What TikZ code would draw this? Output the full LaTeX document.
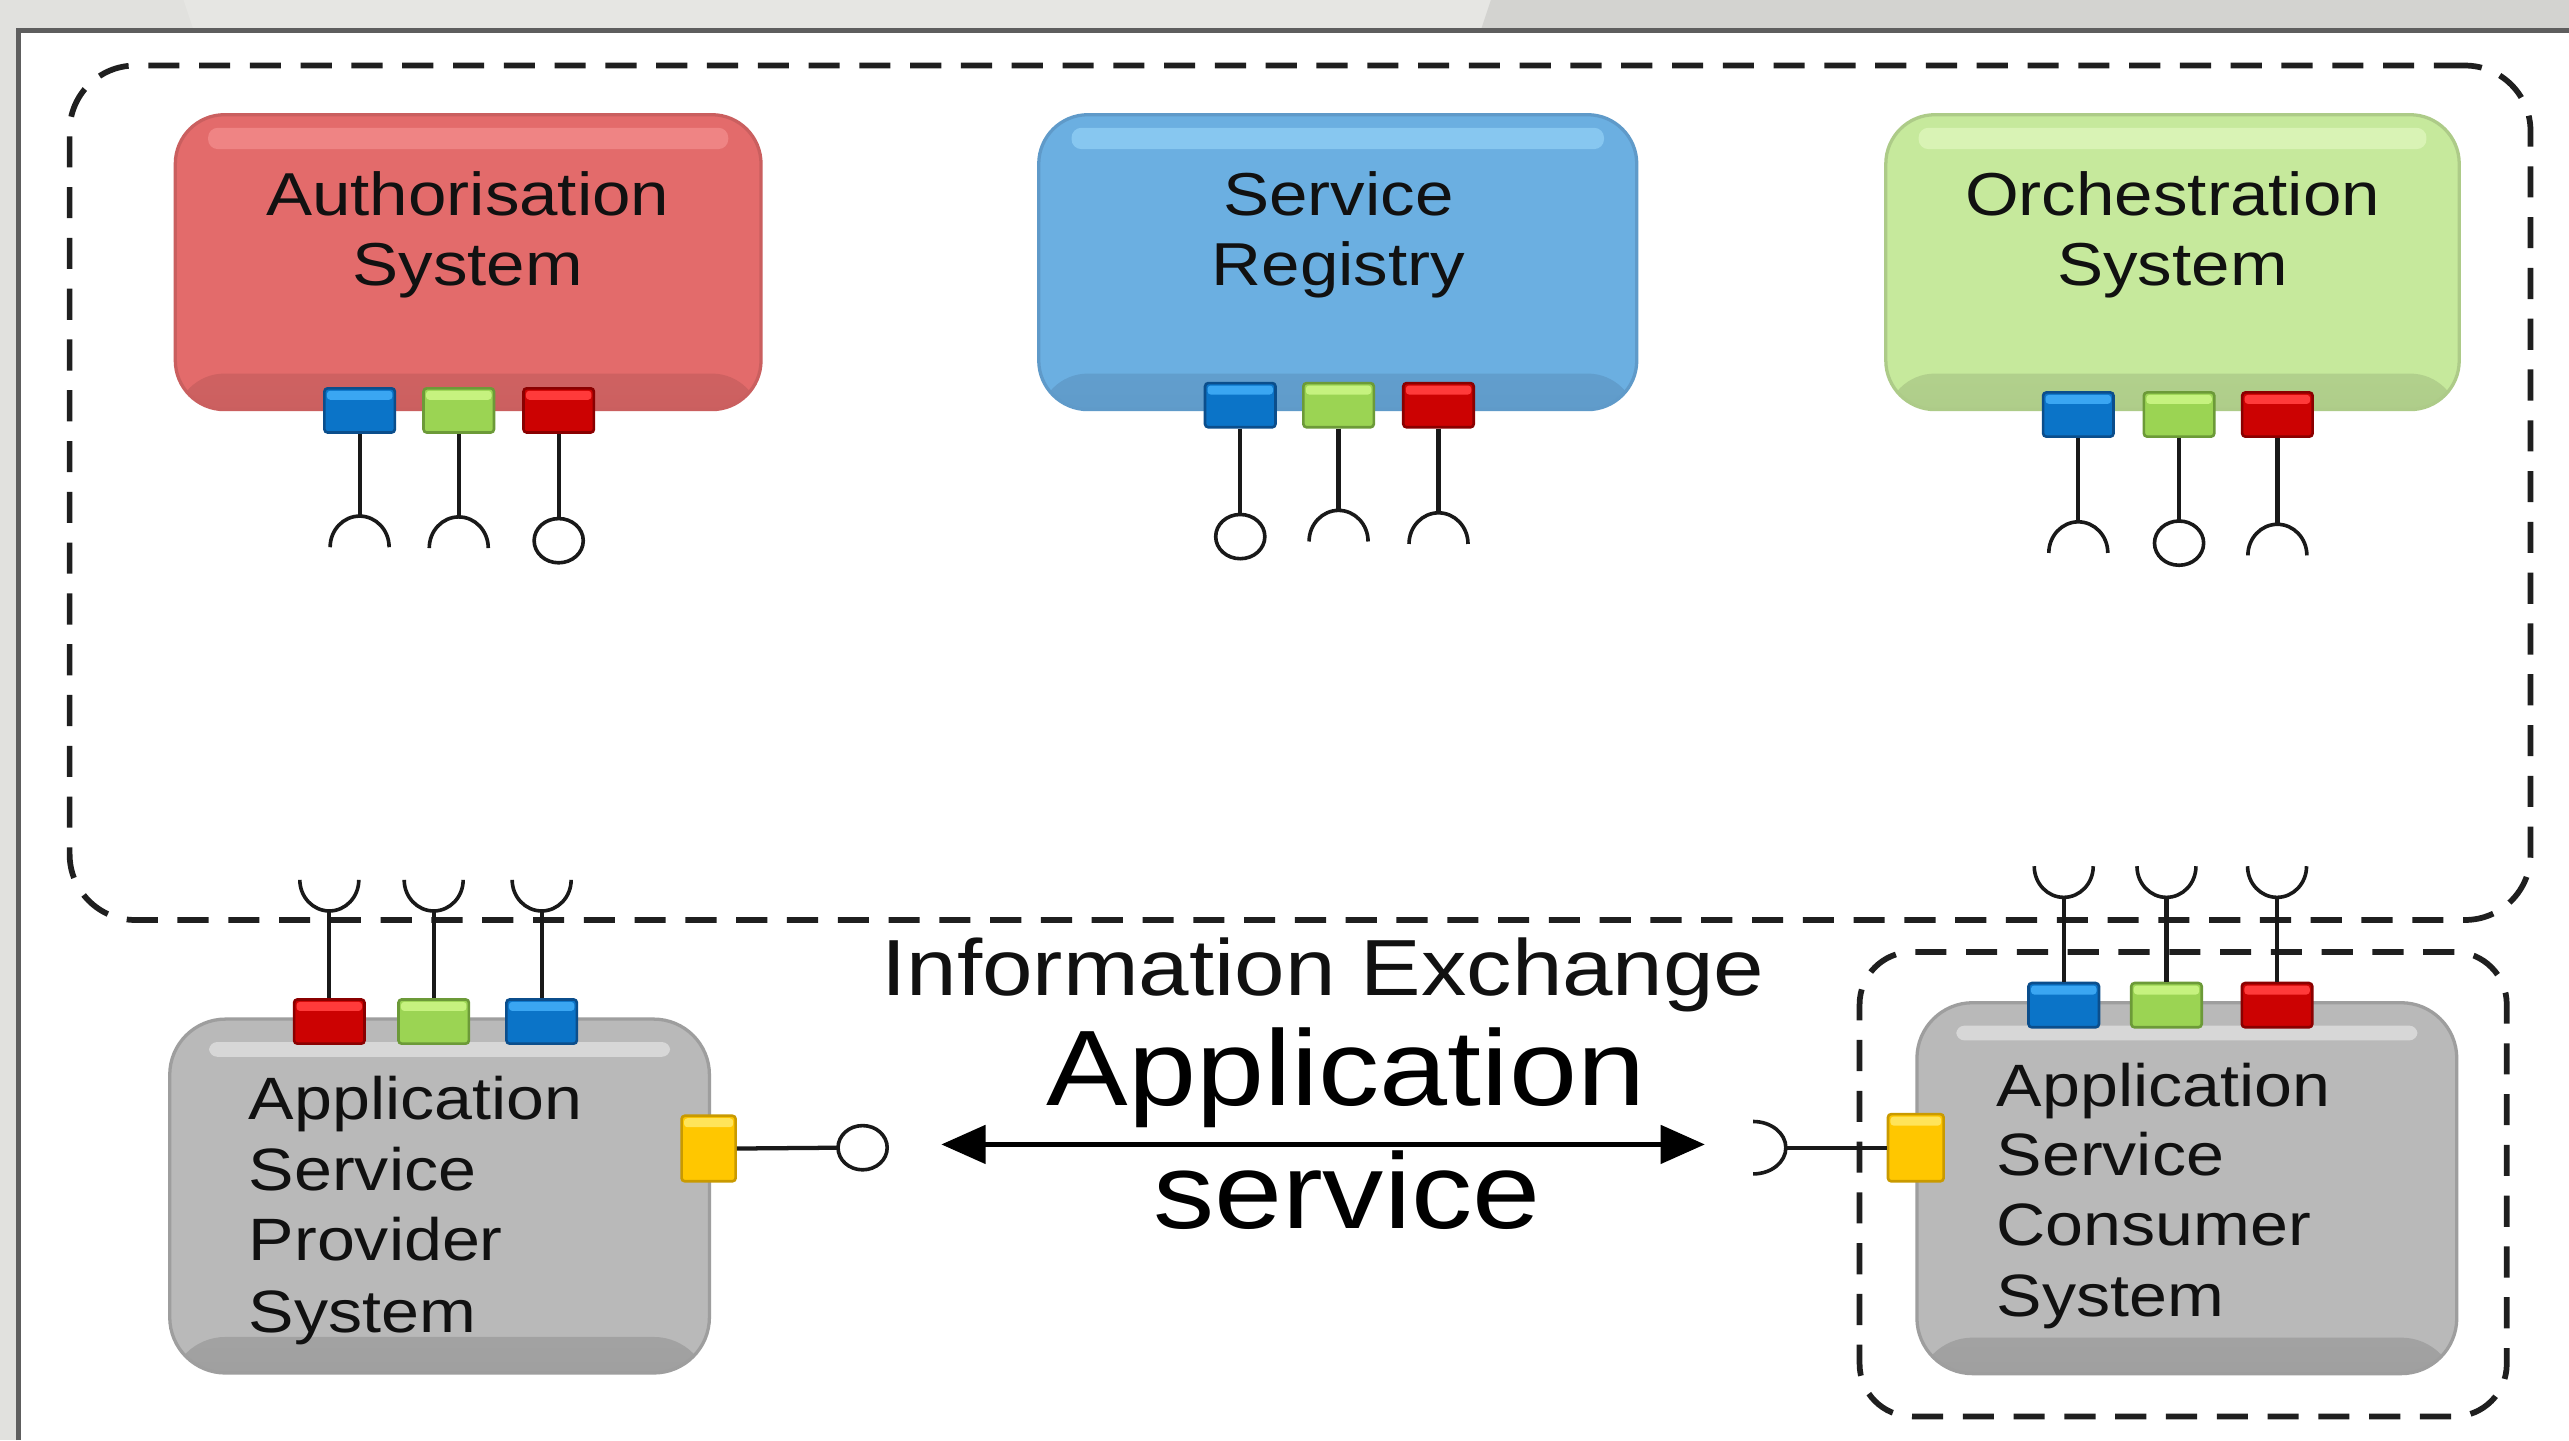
\documentclass[tikz,border=0pt]{standalone}
\usepackage{fontspec}
\newfontfamily\lblfont{Liberation Sans}[FakeStretch=1.14]
\usetikzlibrary{arrows.meta}
\definecolor{bgL}{HTML}{E1E1DE}
\definecolor{bgM}{HTML}{E6E6E3}
\definecolor{bgR}{HTML}{D3D3D0}
\definecolor{frameC}{HTML}{5E5E5E}
\definecolor{ink}{HTML}{111111}
\definecolor{redM}{HTML}{E36B6B}\definecolor{redD}{HTML}{BF5A5A}\definecolor{redL}{HTML}{F79696}
\definecolor{bluM}{HTML}{6BAFE1}\definecolor{bluD}{HTML}{5A91BE}\definecolor{bluL}{HTML}{9AD7FA}
\definecolor{grnM}{HTML}{C6E99C}\definecolor{grnD}{HTML}{A2BE80}\definecolor{grnL}{HTML}{E6FBC6}
\definecolor{gryM}{HTML}{B9B9B9}\definecolor{gryD}{HTML}{929292}\definecolor{gryL}{HTML}{E4E4E4}
\definecolor{pB}{HTML}{0B74C8}\definecolor{pBd}{HTML}{0B4E8C}\definecolor{pBl}{HTML}{3AA6F2}
\definecolor{pG}{HTML}{9BD453}\definecolor{pGd}{HTML}{6C9A38}\definecolor{pGl}{HTML}{C6F27F}
\definecolor{pR}{HTML}{CC0202}\definecolor{pRd}{HTML}{8A0000}\definecolor{pRl}{HTML}{FF3A3A}
\definecolor{pY}{HTML}{FFC700}\definecolor{pYd}{HTML}{C99A00}\definecolor{pYl}{HTML}{FFE45A}
\tikzset{
  sysbox/.style n args={3}{draw=#2!70!#1, fill=#1, line width=2pt, rounded corners=30pt, inner sep=0pt,
    path picture={
      \shade[top color=#1, bottom color=#2!65!#1] ([yshift=22pt]path picture bounding box.south west) rectangle (path picture bounding box.south east);
      \fill[#3, opacity=0.6, rounded corners=6pt] ([xshift=20pt,yshift=-8pt]path picture bounding box.north west) rectangle ([xshift=-20pt,yshift=-21pt]path picture bounding box.north east);
    }},
  lowbox/.style n args={3}{draw=#2!70!#1, fill=#1, line width=2pt, rounded corners=34pt, inner sep=0pt,
    path picture={
      \shade[top color=#1, bottom color=#2!65!#1] ([yshift=22pt]path picture bounding box.south west) rectangle (path picture bounding box.south east);
      \fill[#3, opacity=0.7, rounded corners=5pt] ([xshift=24pt,yshift=-14pt]path picture bounding box.north west) rectangle ([xshift=-24pt,yshift=-23pt]path picture bounding box.north east);
    }},
  portbox/.style n args={3}{draw=#2, fill=#1, line width=1.6pt, rounded corners=2pt, inner sep=0pt,
    minimum width=43, minimum height=27,
    path picture={\fill[#3] ([xshift=1.5pt,yshift=-1.5pt]path picture bounding box.north west) rectangle ([xshift=-1.5pt,yshift=-7pt]path picture bounding box.north east);}},
  pblue/.style={portbox={pB}{pBd}{pBl}},
  pgreen/.style={portbox={pG}{pGd}{pGl}},
  pred/.style={portbox={pR}{pRd}{pRl}},
  pyellow/.style={portbox={pY}{pYd}{pYl}, minimum width=33, minimum height=40},
  grpline/.style={draw=black!88, line width=3.5pt, dash pattern=on 19pt off 12pt, inner sep=0pt},
  stemline/.style={draw=black!90, line width=2.6pt},
  sockline/.style={draw=black!90, line width=2.2pt},
  biarrow/.style={draw=black, line width=3.5pt, {Triangle[length=27pt,width=23pt]}-{Triangle[length=27pt,width=23pt]}},
  lbltop/.style={font=\lblfont\fontsize{37}{44}\selectfont, text=ink, inner sep=0pt, anchor=base},
  lbllow/.style={font=\lblfont\fontsize{36.5}{43}\selectfont, text=ink, inner sep=0pt, anchor=base west},
  lblmid/.style={font=\lblfont\fontsize{48.6}{56}\selectfont, text=ink, inner sep=0pt, anchor=base},
  lblbig/.style={font=\lblfont\fontsize{65.5}{75}\selectfont, text=black, inner sep=0pt, anchor=base},
}
\newcommand\sockdown[1]{\draw[sockline] (#1) ++(-18,19) arc[start angle=180,end angle=0,x radius=18pt,y radius=19pt];}
\newcommand\ballat[1]{\draw[sockline, fill=white] ([yshift=-13.5pt]#1) ellipse [x radius=15pt,y radius=13.5pt];}
\newcommand\cupup[1]{\draw[sockline] (#1) ++(-18,-19) arc[start angle=180,end angle=360,x radius=18pt,y radius=19pt];}
\begin{document}
\begin{tikzpicture}[x=1pt,y=-1pt]
\useasboundingbox (0,0) rectangle (1568,879);
% slide background and frame
\fill[bgL] (0,0) rectangle (1568,879);
\fill[bgM] (112,0) -- (910,0) -- (904,18) -- (118,18) -- cycle;
\fill[bgR] (910,0) -- (1568,0) -- (1568,18) -- (904,18) -- cycle;
\fill[white] (11.5,18.5) rectangle (1568,879);
\draw[frameC, line width=3pt, line join=miter] (11.5,879) -- (11.5,18.5) -- (1568,18.5);

% group boundaries
\node[grpline, rounded corners=40pt, minimum width=1502, minimum height=521.5] (core) at (793.5,300.75) {};
\node[grpline, rounded corners=32pt, minimum width=395, minimum height=283.5] (consgrp) at (1332.5,722.75) {};

% core systems
\node[sysbox={redM}{redD}{redL}, minimum width=357.5, minimum height=180] (auth) at (285.75,160) {};
\node[sysbox={bluM}{bluD}{bluL}, minimum width=365, minimum height=180] (reg) at (816.5,160) {};
\node[sysbox={grnM}{grnD}{grnL}, minimum width=350, minimum height=180] (orch) at (1326,160) {};

\node[lbltop] (authA) at (285.5,131.4) {Authorisation};
\node[lbltop] (authB) at (285.5,174.2) {System};
\node[lbltop] (regA) at (817,131.4) {Service};
\node[lbltop] (regB) at (817,174.2) {Registry};
\node[lbltop] (orchA) at (1326,131.4) {Orchestration};
\node[lbltop] (orchB) at (1326,174.2) {System};

% application systems
\node[lowbox={gryM}{gryD}{gryL}, minimum width=329.4, minimum height=216] (prov) at (268.3,730) {};
\node[lowbox={gryM}{gryD}{gryL}, minimum width=329.5, minimum height=226.4] (cons) at (1334.75,725.2) {};

\node[lbllow] (provA) at (151.7,683) {Application};
\node[lbllow] (provB) at (151.7,726.8) {Service};
\node[lbllow] (provC) at (151.7,769.6) {Provider};
\node[lbllow] (provD) at (151.7,813) {System};
\node[lbllow] (consA) at (1218.5,675.2) {Application};
\node[lbllow] (consB) at (1218.5,717.6) {Service};
\node[lbllow] (consC) at (1218.5,760.4) {Consumer};
\node[lbllow] (consD) at (1218.5,803.8) {System};

% ports of the core systems
\node[pblue] (a1) at (219.5,250.5) {};
\node[pgreen] (a2) at (280,250.5) {};
\node[pred] (a3) at (341,250.5) {};
\node[pblue] (r1) at (757,247.3) {};
\node[pgreen] (r2) at (817,247.3) {};
\node[pred] (r3) at (878,247.3) {};
\node[pblue] (o1) at (1268.5,253) {};
\node[pgreen] (o2) at (1330,253) {};
\node[pred] (o3) at (1390,253) {};

\coordinate (a1t) at (219.5,315);
\coordinate (a2t) at (280,315.5);
\coordinate (a3t) at (341,316.5);
\coordinate (r1t) at (757,314);
\coordinate (r2t) at (817,311.5);
\coordinate (r3t) at (878,313);
\coordinate (o1t) at (1268.5,318.5);
\coordinate (o2t) at (1330,318);
\coordinate (o3t) at (1390,320);

\foreach \p in {a1,a2,a3,r1,r2,r3,o1,o2,o3} {\draw[stemline] (\p.south) -- (\p t);}
\sockdown{a1t}\sockdown{a2t}\ballat{a3t}
\ballat{r1t}\sockdown{r2t}\sockdown{r3t}
\sockdown{o1t}\ballat{o2t}\sockdown{o3t}

% ports of the application systems
\node[pred] (p1) at (201,623.5) {};
\node[pgreen] (p2) at (264.7,623.5) {};
\node[pblue] (p3) at (330.6,623.5) {};
\node[pblue] (c1) at (1259.6,613.5) {};
\node[pgreen] (c2) at (1322.3,613.5) {};
\node[pred] (c3) at (1389.8,613.5) {};

\coordinate (p1t) at (201,556);
\coordinate (p2t) at (264.7,556);
\coordinate (p3t) at (330.6,556);
\coordinate (c1t) at (1259.6,547.7);
\coordinate (c2t) at (1322.3,547.7);
\coordinate (c3t) at (1389.8,547.7);
\foreach \p in {p1,p2,p3,c1,c2,c3} {\draw[stemline] (\p.north) -- (\p t);}
\cupup{p1t}\cupup{p2t}\cupup{p3t}
\cupup{c1t}\cupup{c2t}\cupup{c3t}

% application service interfaces
\node[pyellow] (py) at (432.5,701) {};
\node[pyellow, minimum width=34, minimum height=41] (cy) at (1169.3,700.5) {};
\coordinate (pball) at (511.5,700.5);
\coordinate (csock) at (1090,700.5);
\draw[stemline] (py.east) -- (pball);
\draw[sockline] ([xshift=15pt]pball) ellipse [x radius=15pt,y radius=13.5pt];
\draw[stemline] (csock) -- (cy.west);
\draw[sockline] (csock) ++(-20,-16) arc[start angle=90,end angle=-90,x radius=20pt,y radius=16pt];

% information exchange
\coordinate (arL) at (574.5,698.5);
\coordinate (arR) at (1040.6,698.5);
\draw[biarrow] (arL) -- (arR);
\node[lblmid] (ie) at (807.5,607.5) {Information Exchange};
\node[lblbig] (asA) at (821.5,674.6) {Application};
\node[lblbig] (asB) at (822,749.8) {service};
\end{tikzpicture}
\end{document}
